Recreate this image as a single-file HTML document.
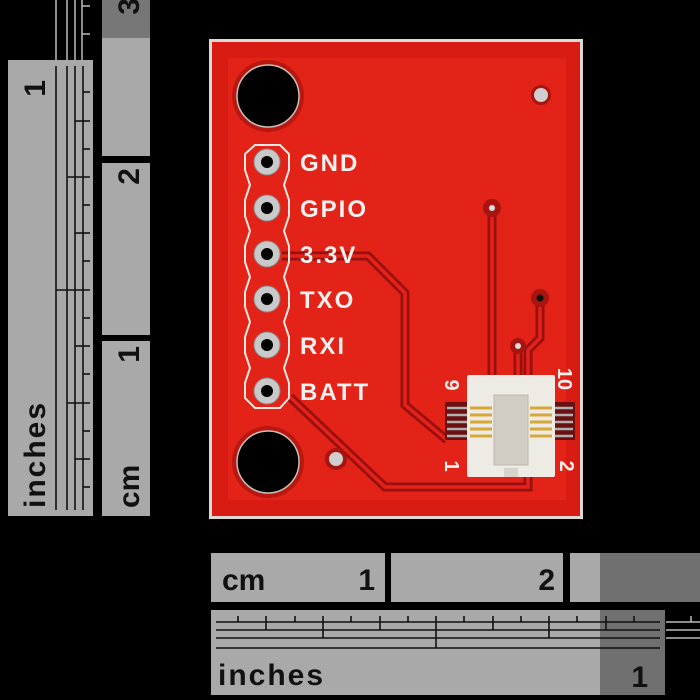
<!DOCTYPE html>
<html><head><style>
html,body{margin:0;padding:0;background:#000;}
svg{display:block}
text{font-family:"Liberation Sans",sans-serif;font-weight:bold}
</style></head><body>
<svg width="700" height="700" viewBox="0 0 700 700" xmlns="http://www.w3.org/2000/svg">
<rect width="700" height="700" fill="#000"/>
<!-- left inches ruler -->
<g stroke="#bbb" stroke-width="1.5"><line x1="56" y1="0" x2="56" y2="60"/><line x1="67" y1="0" x2="67" y2="60"/><line x1="75" y1="0" x2="75" y2="60"/><line x1="82" y1="0" x2="82" y2="60"/><line x1="82" y1="6" x2="90" y2="6"/><line x1="82" y1="34" x2="90" y2="34"/></g>
<rect x="8" y="60" width="85" height="456" fill="#a9a9a9"/>
<g stroke="#111" stroke-width="1.6">
<line x1="56" y1="66" x2="56" y2="510"/><line x1="67" y1="66" x2="67" y2="510"/><line x1="75" y1="66" x2="75" y2="510"/><line x1="83" y1="66" x2="83" y2="510"/>
<line x1="83" y1="92" x2="90" y2="92"/><line x1="75" y1="121" x2="90" y2="121"/><line x1="83" y1="149" x2="90" y2="149"/><line x1="67" y1="177" x2="90" y2="177"/><line x1="83" y1="205" x2="90" y2="205"/><line x1="75" y1="233" x2="90" y2="233"/><line x1="83" y1="261" x2="90" y2="261"/><line x1="56" y1="290" x2="90" y2="290"/><line x1="83" y1="318" x2="90" y2="318"/><line x1="75" y1="346" x2="90" y2="346"/><line x1="83" y1="374" x2="90" y2="374"/><line x1="67" y1="403" x2="90" y2="403"/><line x1="83" y1="431" x2="90" y2="431"/><line x1="75" y1="459" x2="90" y2="459"/><line x1="83" y1="487" x2="90" y2="487"/>
</g>
<text font-size="30" fill="#111" transform="translate(45,80) rotate(-90)" text-anchor="end">1</text>
<text font-size="30" fill="#111" transform="translate(45,508) rotate(-90)" letter-spacing="2">inches</text>
<!-- left cm ruler -->
<rect x="102" y="0" width="48" height="38" fill="#777"/>
<rect x="102" y="38" width="48" height="118" fill="#a9a9a9"/>
<rect x="102" y="163" width="48" height="172" fill="#a9a9a9"/>
<rect x="102" y="341" width="48" height="175" fill="#a9a9a9"/>
<text font-size="30" fill="#111" transform="translate(139,-2) rotate(-90)" text-anchor="end">3</text>
<text font-size="30" fill="#111" transform="translate(139,168) rotate(-90)" text-anchor="end">2</text>
<text font-size="30" fill="#111" transform="translate(139,346) rotate(-90)" text-anchor="end">1</text>
<text font-size="30" fill="#111" transform="translate(139,508) rotate(-90)">cm</text>
<!-- bottom cm ruler -->
<rect x="211" y="553" width="174" height="49" fill="#a9a9a9"/>
<rect x="391" y="553" width="172" height="49" fill="#a9a9a9"/>
<rect x="570" y="553" width="130" height="49" fill="#a9a9a9"/>
<rect x="600" y="553" width="100" height="49" fill="#707070"/>
<text x="222" y="590" font-size="30" fill="#111">cm</text>
<text x="375" y="590" font-size="30" fill="#111" text-anchor="end">1</text>
<text x="555" y="590" font-size="30" fill="#111" text-anchor="end">2</text>
<!-- bottom inches ruler -->
<rect x="211" y="610" width="454" height="85" fill="#a9a9a9"/>
<rect x="600" y="610" width="65" height="85" fill="#707070"/>
<g stroke="#111" stroke-width="1.6">
<line x1="216" y1="622" x2="660" y2="622"/><line x1="216" y1="630" x2="660" y2="630"/><line x1="216" y1="638" x2="660" y2="638"/><line x1="216" y1="648" x2="660" y2="648"/>
<line x1="238" y1="616" x2="238" y2="622"/><line x1="266" y1="616" x2="266" y2="630"/><line x1="295" y1="616" x2="295" y2="622"/><line x1="323" y1="616" x2="323" y2="638"/><line x1="351" y1="616" x2="351" y2="622"/><line x1="380" y1="616" x2="380" y2="630"/><line x1="408" y1="616" x2="408" y2="622"/><line x1="436" y1="616" x2="436" y2="648"/><line x1="464" y1="616" x2="464" y2="622"/><line x1="493" y1="616" x2="493" y2="630"/><line x1="521" y1="616" x2="521" y2="622"/><line x1="549" y1="616" x2="549" y2="638"/><line x1="577" y1="616" x2="577" y2="622"/><line x1="606" y1="616" x2="606" y2="630"/><line x1="634" y1="616" x2="634" y2="622"/>
</g>
<g stroke="#bbb" stroke-width="1.5"><line x1="666" y1="622" x2="700" y2="622"/><line x1="666" y1="630" x2="700" y2="630"/><line x1="666" y1="638" x2="700" y2="638"/><line x1="691" y1="616" x2="691" y2="622"/></g>
<text x="218" y="685" font-size="30" fill="#111" letter-spacing="2">inches</text>
<text x="648" y="687" font-size="30" fill="#111" text-anchor="end">1</text>
<!-- board -->
<rect x="209" y="39" width="374" height="480" fill="#e0d8d4"/>
<rect x="212" y="42" width="368" height="474" fill="#d81c14"/>
<rect x="228" y="58" width="338" height="442" fill="#e32218"/>
<!-- traces -->
<g fill="none" stroke="#9a1010" stroke-width="9" stroke-linejoin="miter">
<path d="M282 256 L368 256 L405 293 L405 405 L447 440"/>
<path d="M290 397 L385 487 L528 487 L528 472"/>
<path d="M492 208 L492 380"/>
<path d="M540 298 L540 338 L528 350 L528 380"/>
<path d="M518 346 L518 380"/>
</g>
<g fill="none" stroke="#e32218" stroke-width="3.5">
<path d="M282 256 L368 256 L405 293 L405 405 L447 440"/>
<path d="M290 397 L385 487 L528 487 L528 472"/>
<path d="M492 208 L492 380"/>
<path d="M540 298 L540 338 L528 350 L528 380"/>
<path d="M518 346 L518 380"/>
</g>
<!-- vias -->
<circle cx="492" cy="208" r="9" fill="#a81410"/><circle cx="492" cy="208" r="3" fill="#ddd"/>
<circle cx="540" cy="298" r="9" fill="#a81410"/><circle cx="540" cy="298" r="3.5" fill="#111"/>
<circle cx="518" cy="346" r="8" fill="#a81410"/><circle cx="518" cy="346" r="3" fill="#ddd"/>
<circle cx="541" cy="95" r="10" fill="#a81410"/><circle cx="541" cy="95" r="7" fill="#cfcfcf"/>
<circle cx="336" cy="459" r="11" fill="#a81410"/><circle cx="336" cy="459" r="7" fill="#cfcfcf"/>
<!-- mounting holes -->
<circle cx="268" cy="96" r="36" fill="#b81810"/><circle cx="268" cy="96" r="31" fill="#000" stroke="#c8c0b8" stroke-width="1.5"/>
<circle cx="268" cy="462" r="36" fill="#b81810"/><circle cx="268" cy="462" r="31" fill="#000" stroke="#c8c0b8" stroke-width="1.5"/>
<!-- header outline -->
<path d="M255 145 L280 145 L289 154 L289 170 L284 185 L289 200 L289 216 L284 231 L289 246 L289 262 L284 277 L289 292 L289 307 L284 322 L289 337 L289 353 L284 368 L289 383 L289 398 L280 408 L255 408 L245 398 L245 383 L250 368 L245 353 L245 337 L250 322 L245 307 L245 292 L250 277 L245 262 L245 246 L250 231 L245 216 L245 200 L250 185 L245 170 L245 154 Z" fill="none" stroke="#f4e8e0" stroke-width="2"/>
<g fill="#c9c9c9" stroke="#8a8a8a" stroke-width="1">
<circle cx="267" cy="162" r="13"/><circle cx="267" cy="208" r="13"/><circle cx="267" cy="254" r="13"/><circle cx="267" cy="299" r="13"/><circle cx="267" cy="345" r="13"/><circle cx="267" cy="391" r="13"/>
</g>
<g fill="#000">
<circle cx="267" cy="162" r="6"/><circle cx="267" cy="208" r="6"/><circle cx="267" cy="254" r="6"/><circle cx="267" cy="299" r="6"/><circle cx="267" cy="345" r="6"/><circle cx="267" cy="391" r="6"/>
</g>
<g font-size="24" fill="#f6f0ee" letter-spacing="2">
<text x="300" y="171">GND</text>
<text x="300" y="217">GPIO</text>
<text x="300" y="263">3.3V</text>
<text x="300" y="308">TXO</text>
<text x="300" y="354">RXI</text>
<text x="300" y="400">BATT</text>
</g>
<!-- connector -->
<rect x="445" y="402" width="130" height="38" fill="#6a1010"/>
<g stroke="#b0b0b0" stroke-width="2.5">
<line x1="447" y1="408" x2="470" y2="408"/><line x1="447" y1="415" x2="470" y2="415"/><line x1="447" y1="422" x2="470" y2="422"/><line x1="447" y1="429" x2="470" y2="429"/><line x1="447" y1="436" x2="470" y2="436"/>
<line x1="552" y1="408" x2="573" y2="408"/><line x1="552" y1="415" x2="573" y2="415"/><line x1="552" y1="422" x2="573" y2="422"/><line x1="552" y1="429" x2="573" y2="429"/><line x1="552" y1="436" x2="573" y2="436"/>
</g>
<rect x="467" y="375" width="88" height="102" fill="#eeebe4" rx="2"/>
<rect x="494" y="395" width="34" height="70" fill="#d2cdc4" stroke="#c0b8ae"/>
<rect x="504" y="468" width="14" height="9" fill="#d8d4cc"/>
<g stroke="#d6a838" stroke-width="3">
<line x1="470" y1="408" x2="492" y2="408"/><line x1="470" y1="415" x2="492" y2="415"/><line x1="470" y1="422" x2="492" y2="422"/><line x1="470" y1="429" x2="492" y2="429"/><line x1="470" y1="436" x2="492" y2="436"/>
<line x1="530" y1="408" x2="552" y2="408"/><line x1="530" y1="415" x2="552" y2="415"/><line x1="530" y1="422" x2="552" y2="422"/><line x1="530" y1="429" x2="552" y2="429"/><line x1="530" y1="436" x2="552" y2="436"/>
</g>
<g font-size="20" fill="#f6f0ee">
<text transform="translate(445,385) rotate(90)" text-anchor="middle">9</text>
<text transform="translate(558,379) rotate(90)" text-anchor="middle">10</text>
<text transform="translate(445,466) rotate(90)" text-anchor="middle">1</text>
<text transform="translate(560,466) rotate(90)" text-anchor="middle">2</text>
</g>
</svg>
</body></html>
